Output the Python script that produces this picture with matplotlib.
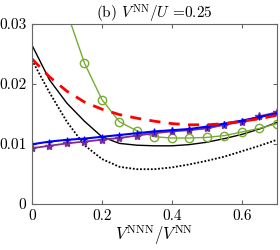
import numpy as np
from matplotlib import pyplot as plt

plt.rcParams["font.family"] = "serif"
plt.rcParams["font.serif"] = ["cmr10"]
plt.rcParams["mathtext.fontset"] = "cm"
plt.rcParams["axes.formatter.use_mathtext"] = True

x = np.round(np.arange(0, 0.701, 0.05), 2)

blue = [0.00995, 0.0104, 0.0107, 0.0109, 0.0112, 0.0115, 0.0118, 0.0121,
        0.0123, 0.0125, 0.0129, 0.0134, 0.0139, 0.0145, 0.0151]
purple = [0.0093, 0.0097, 0.0101, 0.0104, 0.0107, 0.0110, 0.0114, 0.0118,
          0.0121, 0.0123, 0.0126, 0.0132, 0.0137, 0.0146, 0.0153]
green = [0.055, 0.042, 0.032, 0.0235, 0.0174, 0.0137, 0.0122, 0.0112,
         0.0110, 0.0110, 0.0111, 0.0114, 0.0120, 0.0126, 0.0134]
red = [0.0242, 0.0212, 0.0188, 0.0170, 0.0158, 0.0149, 0.0143, 0.0138,
       0.0134, 0.0132, 0.0132, 0.0134, 0.0138, 0.0142, 0.0148]
black = [0.0265, 0.0207, 0.0168, 0.0138, 0.0112, 0.0101, 0.0098, 0.0097,
         0.0097, 0.0099, 0.0103, 0.0109, 0.0116, 0.0125, 0.0136]
dotted = [0.0240, 0.0186, 0.0137, 0.0098, 0.0075, 0.0062, 0.0058, 0.0058,
          0.0061, 0.0066, 0.0072, 0.0079, 0.0088, 0.0097, 0.0107]

fig = plt.figure(figsize=(2.8, 2.5), dpi=100)
ax = fig.add_axes([0.114, 0.184, 0.875, 0.72])

ax.plot(x, dotted, color="k", ls=(0, (1, 1)), lw=1.3)
ax.plot(x, black, color="k", lw=1)
ax.plot(x, green, color="#77AC30", lw=1, marker="o", ms=6, mfc="none", mew=1)
ax.plot(x, purple, color="#7E2F8E", lw=1.3, marker="*", ms=6)
ax.plot(x, blue, color="b", lw=1.5, marker="+", ms=4)
ax.plot(x, red, color="r", ls=(0, (4, 3)), lw=2)

ax.set_xlim(0, 0.7)
ax.set_ylim(0, 0.03)
ax.set_xticks([0, 0.2, 0.4, 0.6])
ax.set_xticklabels(["0", "0.2", "0.4", "0.6"])
ax.set_yticks([0, 0.01, 0.02, 0.03])
ax.set_yticklabels(["0", "0.01", "0.02", "0.03"])
ax.tick_params(direction="in", top=True, right=True, labelsize=11,
               length=3, color="0.4", pad=4)
for s in ax.spines.values():
    s.set_color("0.4")
    s.set_linewidth(0.8)

ax.set_xlabel(r"$V^{\rm NNN}/V^{\rm NN}$", fontsize=12, labelpad=0)
ax.set_title(r"(b) $V^{\rm NN}/U$ =0.25", fontsize=11, pad=4)

fig.savefig("out.png", dpi=100)
